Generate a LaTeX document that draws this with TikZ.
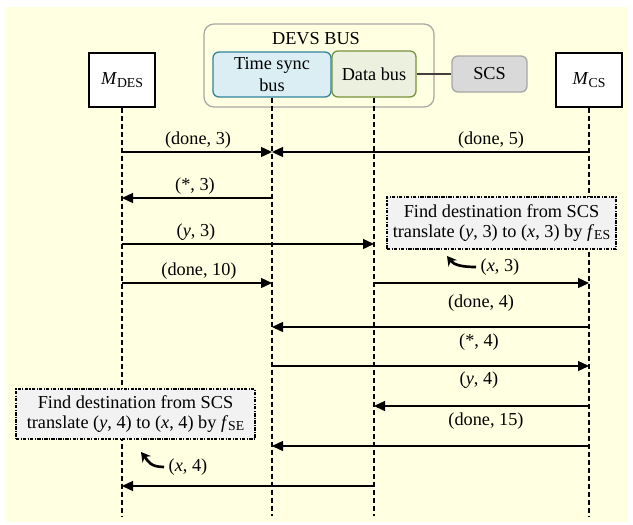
\documentclass[tikz,border=0pt]{standalone}
\usepackage{fontspec}
\setmainfont{Liberation Serif}
\usetikzlibrary{arrows.meta}
\definecolor{bgyellow}{HTML}{FFFFE1}
\definecolor{tsfill}{HTML}{DBEEF4}
\definecolor{tsdraw}{HTML}{31849B}
\definecolor{dbfill}{HTML}{EBF1DE}
\definecolor{dbdraw}{HTML}{77933C}
\definecolor{scsfill}{HTML}{D9D9D9}
\definecolor{scsdraw}{HTML}{A6A6A6}
\definecolor{devsdraw}{HTML}{A6A6A6}
\definecolor{notefill}{HTML}{F2F2F2}
\newcommand{\lowsub}[1]{\raisebox{-0.3ex}{\fontsize{10.3pt}{11pt}\selectfont #1}}
\begin{document}
\begin{tikzpicture}[x=0.75pt,y=-0.75pt,
  every node/.style={font=\fontsize{13.7pt}{15pt}\selectfont},
  actor/.style={draw=black, fill=white, line width=0.9pt, minimum width=49.5pt, minimum height=40.5pt, inner sep=0pt},
  rbox/.style={rounded corners=4.5pt, line width=1pt, inner sep=0pt, align=center},
  note/.style={draw=black, fill=notefill, line width=1pt, dash pattern=on 2.5pt off 1pt on 0.8pt off 1pt, inner sep=0pt, align=center},
  life/.style={line width=0.8pt, dash pattern=on 3.75pt off 2.25pt},
  msg/.style={line width=1pt, draw=black, -{Triangle[length=8.25pt,width=7.5pt]}},
  curvy/.style={line width=2pt, -{Stealth[length=7pt,width=8pt]}}
]
\useasboundingbox (0,0) rectangle (633,525);
\fill[bgyellow] (5,7) rectangle (628,522);

% header
\node[draw=devsdraw, rounded corners=7.5pt, line width=0.9pt, minimum width=172.5pt, minimum height=62.25pt] (devs) at (319,65.5) {};
\node (devslbl) at (316,39) {DEVS BUS};
\node[rbox, draw=tsdraw, fill=tsfill, minimum width=88.5pt, minimum height=33.75pt, font=\fontsize{13.7pt}{16.5pt}\selectfont] (ts) at (272,74.5) {Time sync\\bus};
\node[rbox, draw=dbdraw, fill=dbfill, minimum width=63pt, minimum height=34.5pt] (db) at (374,74) {Data bus};
\node[rbox, draw=scsdraw, fill=scsfill, minimum width=56.25pt, minimum height=27pt] (scs) at (489.5,74) {SCS};
\draw[line width=1.3pt, draw=black!75] (db.east) -- (scs.west);
\node[actor] (mdes) at (122,80) {\textit{M}\lowsub{DES}};
\node[actor] (mcs) at (589,80) {\textit{M}\lowsub{CS}};

% lifelines
\coordinate (bottom) at (0,516);
\draw[life] (mdes.south) -- (mdes.south |- bottom);
\draw[life] (ts.south) -- (ts.south |- bottom);
\draw[life] (db.south) -- (db.south |- bottom);
\draw[life] (mcs.south) -- (mcs.south |- bottom);

% rows
\coordinate (r1) at (0,152);
\coordinate (r2) at (0,198);
\coordinate (r3) at (0,244);
\coordinate (r4) at (0,283);
\coordinate (r5) at (0,327);
\coordinate (r6) at (0,366);
\coordinate (r7) at (0,406);
\coordinate (r8) at (0,446);
\coordinate (r9) at (0,486);

\draw[msg] (mdes |- r1) -- (ts |- r1);
\draw[msg] (mcs |- r1) -- (ts |- r1);
\draw[msg] (ts |- r2) -- (mdes |- r2);
\draw[msg] (mdes |- r3) -- (db |- r3);
\draw[msg] (mdes |- r4) -- (ts |- r4);
\draw[msg] (db |- r4) -- (mcs |- r4);
\draw[msg] (mcs |- r5) -- (ts |- r5);
\draw[msg] (ts |- r6) -- (mcs |- r6);
\draw[msg] (mcs |- r7) -- (db |- r7);
\draw[msg] (mcs |- r8) -- (ts |- r8);
\draw[msg] (db |- r9) -- (mdes |- r9);

% labels
\node (l1) at (198,140) {(done, 3)};
\node (l2) at (491,140) {(done, 5)};
\node (l3) at (195,186) {(*, 3)};
\node (l4) at (196,232) {(\textit{y}, 3)};
\node (l5) at (199,271) {(done, 10)};
\node (l7) at (481,303) {(done, 4)};
\node (l8) at (479,342) {(*, 4)};
\node (l9) at (479,380) {(\textit{y}, 4)};
\node (l10) at (486,421) {(done, 15)};
\node (x3) at (500,267) {(\textit{x}, 3)};
\node (x4) at (188,467) {(\textit{x}, 4)};

% notes
\node[note, minimum width=171.75pt, minimum height=39pt] (n1) at (501.5,223) {Find destination from SCS\\translate (\textit{y}, 3) to (\textit{x}, 3) by \textit{f}\lowsub{ES}};
\node[note, minimum width=179.25pt, minimum height=37.5pt] (n2) at (135.5,414) {Find destination from SCS\\translate (\textit{y}, 4) to (\textit{x}, 4) by \textit{f}\lowsub{SE}};

\coordinate (c1) at (447,256);
\coordinate (c2) at (141,452);
\draw[curvy] (x3.west) .. controls +(-14,0) and +(7,9) .. (c1);
\draw[curvy] (x4.west) .. controls +(-14,0) and +(7,9) .. (c2);
\end{tikzpicture}
\end{document}
